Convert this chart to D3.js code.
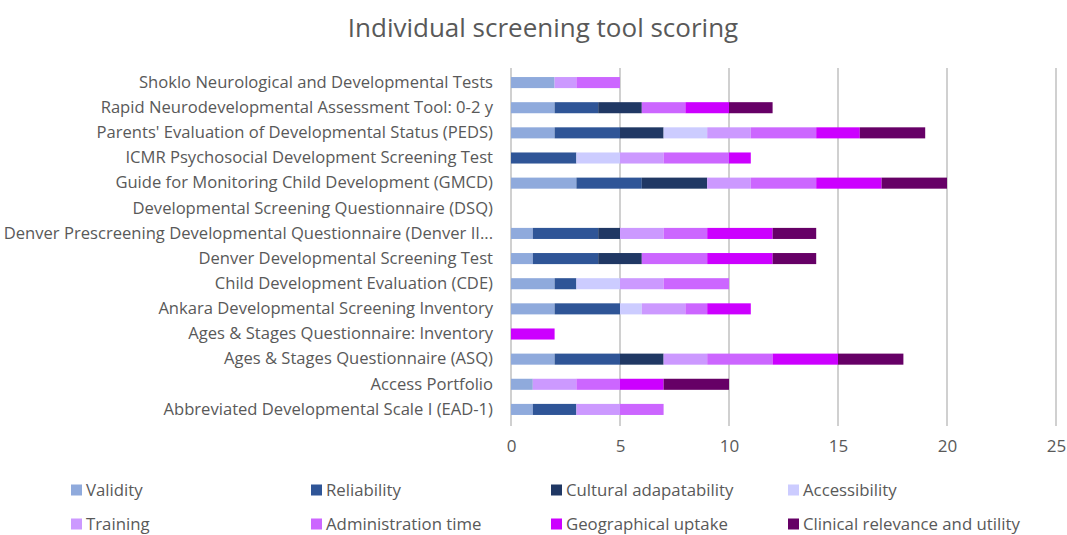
<!DOCTYPE html>
<html><head><meta charset="utf-8">
<script src="https://cdn.jsdelivr.net/npm/d3@7"></script>
<style>body{margin:0;background:#fff;} svg{display:block;font-family:"Open Sans", sans-serif;}</style>
</head><body><svg id="c" width="1067" height="535"></svg>
<script>
const categories = [
  "Shoklo Neurological and Developmental Tests",
  "Rapid Neurodevelopmental Assessment Tool: 0-2 y",
  "Parents' Evaluation of Developmental Status (PEDS)",
  "ICMR Psychosocial Development Screening Test",
  "Guide for Monitoring Child Development (GMCD)",
  "Developmental Screening Questionnaire (DSQ)",
  "Denver Prescreening Developmental Questionnaire (Denver II...",
  "Denver Developmental Screening Test",
  "Child Development Evaluation (CDE)",
  "Ankara Developmental Screening Inventory",
  "Ages & Stages Questionnaire: Inventory",
  "Ages & Stages Questionnaire (ASQ)",
  "Access Portfolio",
  "Abbreviated Developmental Scale I (EAD-1)"
];
const seriesNames = ["Validity","Reliability","Cultural adapatability","Accessibility","Training","Administration time","Geographical uptake","Clinical relevance and utility"];
const seriesColors = ["#8faadc","#2f5597","#203864","#ccccff","#cc99ff","#cc66ff","#cc00ff","#660066"];
const validity        = [2,2,2,0,3,0,1,1,2,2,0,2,1,1];
const reliability     = [0,2,3,3,3,0,3,3,1,3,0,3,0,2];
const cultural        = [0,2,2,0,3,0,1,2,0,0,0,2,0,0];
const accessibility   = [0,0,2,2,0,0,0,0,2,1,0,0,0,0];
const training        = [1,0,2,2,2,0,2,0,2,2,0,2,2,2];
const adminTime       = [2,2,3,3,3,0,2,3,3,1,0,3,2,2];
const geoUptake       = [0,2,2,1,3,0,3,3,0,2,2,3,2,0];
const clinical        = [0,2,3,0,3,0,2,2,0,0,0,3,3,0];
const xTicks = [0,5,10,15,20,25];

const seriesValues = [validity,reliability,cultural,accessibility,training,adminTime,geoUptake,clinical];
const rows = categories.map((c,i)=>{const o={cat:c}; seriesNames.forEach((s,j)=>o[s]=seriesValues[j][i]); return o;});
const stacked = d3.stack().keys(seriesNames)(rows);

const svg = d3.select("#c");
const x = d3.scaleLinear().domain([0,25]).range([511,1056]);
const y = d3.scaleBand().domain(categories).range([70,422]).paddingInner(0.56).paddingOuter(0.28);
const color = d3.scaleOrdinal().domain(seriesNames).range(seriesColors);
const txt = "#595959";

svg.append("text").attr("x",543).attr("y",37).attr("text-anchor","middle")
  .attr("font-size",26).attr("fill",txt).text("Individual screening tool scoring");

// gridlines
svg.append("g").selectAll("line").data(xTicks).join("line")
  .attr("x1",d=>x(d)).attr("x2",d=>x(d)).attr("y1",68).attr("y2",426)
  .attr("stroke","#d0d0d0").attr("stroke-width",2);

// bars
svg.append("g").selectAll("g").data(stacked).join("g").attr("fill",d=>color(d.key))
  .selectAll("rect").data(d=>d).join("rect")
  .attr("x",d=>x(d[0])).attr("width",d=>x(d[1])-x(d[0]))
  .attr("y",d=>y(d.data.cat)).attr("height",y.bandwidth());

// y labels
const ya = svg.append("g").attr("transform","translate(506,0)")
  .call(d3.axisLeft(y).tickSize(0).tickPadding(13));
ya.select(".domain").remove();
ya.selectAll("text").attr("font-size",16.6).attr("fill",txt).style("font-family","'Open Sans', sans-serif");

// x labels
const xa = svg.append("g").attr("transform","translate(0,433)")
  .call(d3.axisBottom(x).tickValues(xTicks).tickSize(0).tickPadding(7));
xa.select(".domain").remove();
xa.selectAll("text").attr("font-size",17).attr("fill",txt).style("font-family","'Open Sans', sans-serif");

// legend
const legX = [71,311,551,788], legY = [490,524];
const leg = svg.append("g").selectAll("g").data(seriesNames).join("g")
  .attr("transform",(d,i)=>`translate(${legX[i%4]},${legY[Math.floor(i/4)]})`);
leg.append("rect").attr("x",0).attr("y",-5.5).attr("width",11).attr("height",11).attr("fill",d=>color(d));
leg.append("text").attr("x",15).attr("y",5.5).attr("font-size",16.8).attr("fill",txt).text(d=>d);
</script></body></html>
